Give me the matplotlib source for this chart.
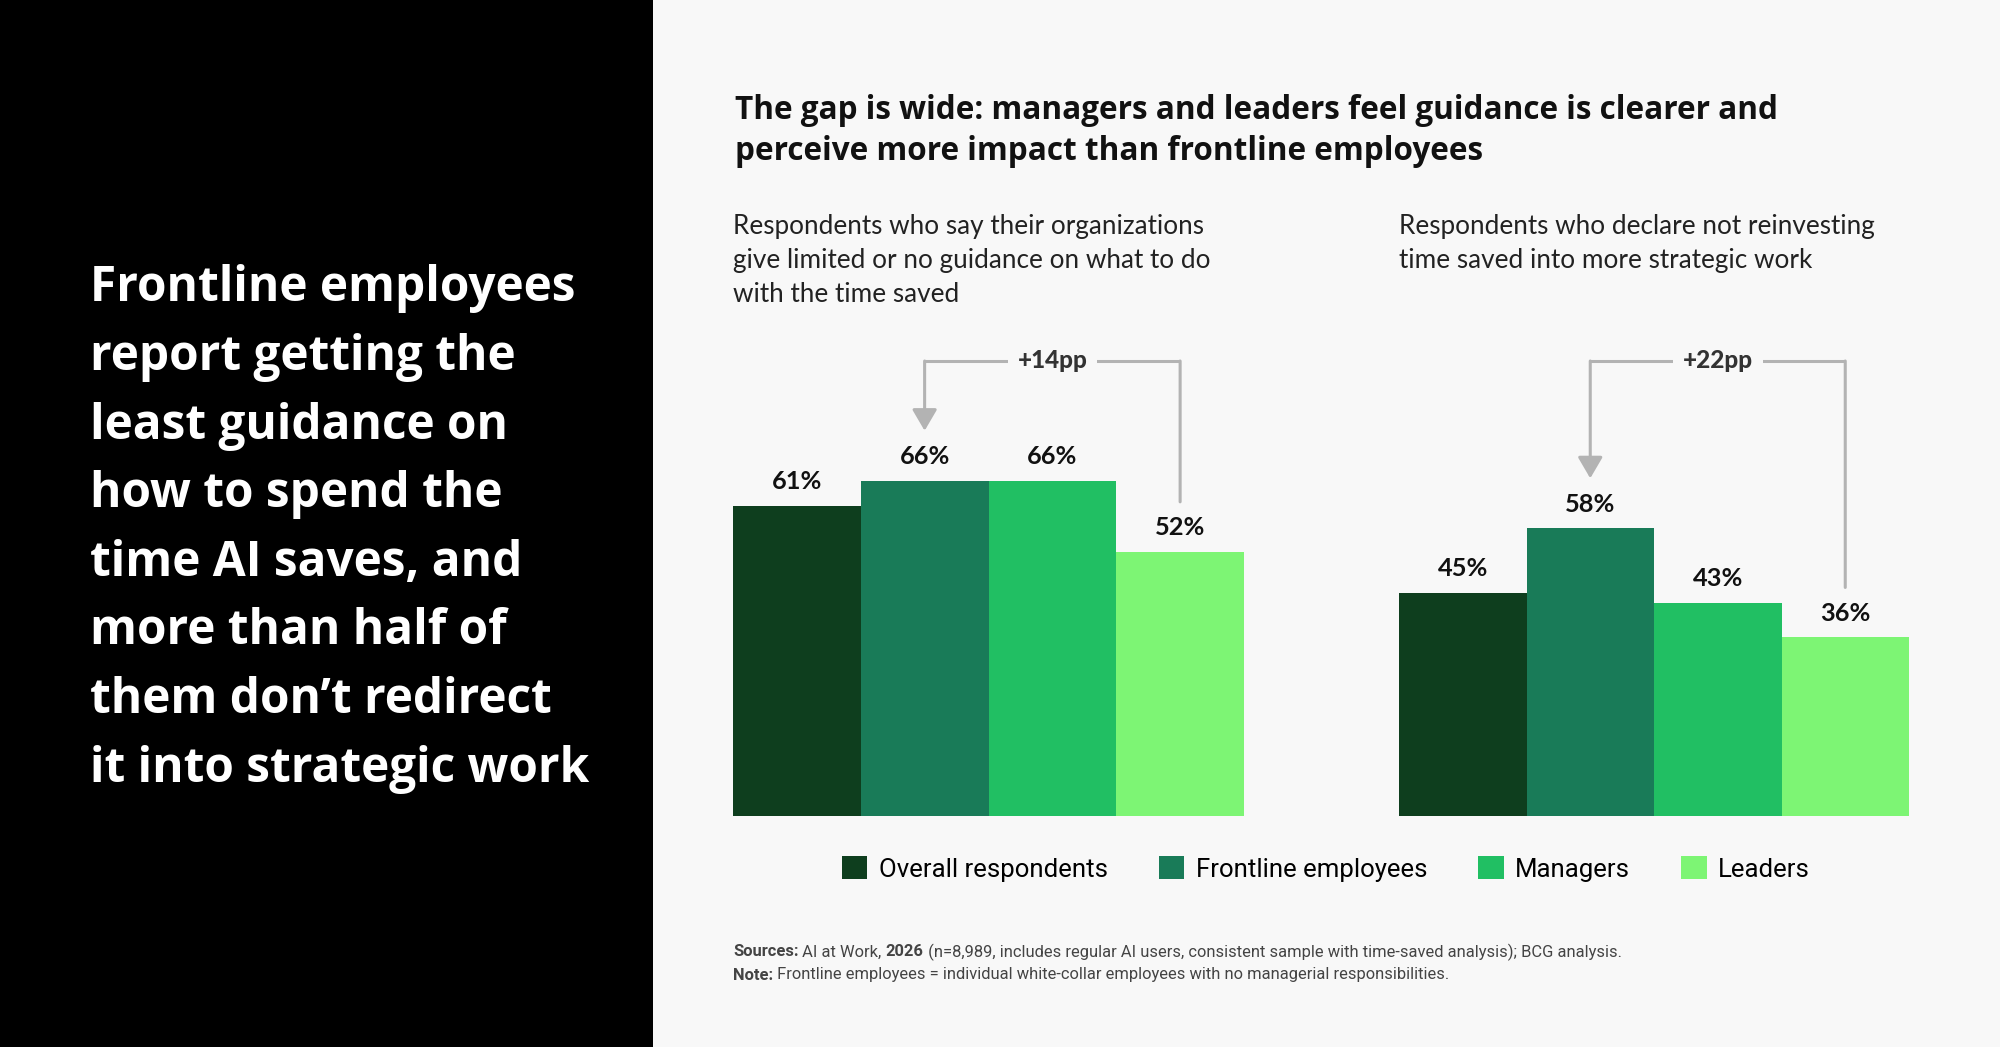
import matplotlib
matplotlib.use("Agg")
import matplotlib.pyplot as plt
from matplotlib.patches import Rectangle, Patch
import numpy as np

# data
groups = ["Overall respondents", "Frontline employees", "Managers", "Leaders"]
guidance = [61, 66, 66, 52]        # limited or no guidance
not_reinvest = [45, 58, 43, 36]    # not reinvesting time saved

colors = ["#0e3e1e", "#197b58", "#21bf63", "#7df574"]
bg = "#f8f8f8"
grey = "#b3b3b3"

title = ("The gap is wide: managers and leaders feel guidance is clearer and\n"
         "perceive more impact than frontline employees")
sub_left = ("Respondents who say their organizations\n"
            "give limited or no guidance on what to do\n"
            "with the time saved")
sub_right = ("Respondents who declare not reinvesting\n"
             "time saved into more strategic work")
headline = ("Frontline employees\nreport getting the\nleast guidance on\n"
            "how to spend the\ntime AI saves, and\nmore than half of\n"
            "them don\u2019t redirect\nit into strategic work")
sources = [("Sources:", "bold"), (" AI at Work, ", "normal"), ("2026", "bold"),
           (" (n=8,989, includes regular AI users, consistent sample with "
            "time-saved analysis); BCG analysis.", "normal")]
note = [("Note:", "bold"), (" Frontline employees = individual white-collar "
                            "employees with no managerial responsibilities.", "normal")]

plt.rcParams['font.family'] = ['Lato', 'DejaVu Sans']

W, H = 2000, 1047
fig = plt.figure(figsize=(W / 100, H / 100), dpi=100, facecolor=bg)
renderer = fig.canvas.get_renderer()

# black side panel
fig.add_artist(Rectangle((0, 0), 653 / W, 1, transform=fig.transFigure,
                         facecolor="black", edgecolor="none", zorder=0))
fig.text(90 / W, 1 - 529 / H, headline, color="white", fontsize=34.4,
         fontweight="bold", ha="left", va="center", linespacing=1.53,
         family=["Open Sans", "DejaVu Sans"])

fig.text(735 / W, 1 - 131 / H, title, color="#111111", fontsize=22.7,
         fontweight="bold", ha="left", va="center", linespacing=1.35,
         family=["Open Sans", "DejaVu Sans"])

ax_bottom = 1 - 816 / H
ax_height = (816 - 361) / H


def panel(x0, x1, values, scale, subtitle):
    ax = fig.add_axes([x0 / W, ax_bottom, (x1 - x0) / W, ax_height])
    ax.set_facecolor("none")
    ymax = (816 - 361) / scale
    x = np.arange(len(values))
    ax.bar(x, values, width=1.0, color=colors, zorder=2)
    ax.set_xlim(-0.5, len(values) - 0.5)
    ax.set_ylim(0, ymax)
    ax.axis("off")
    for xi, v in zip(x, values):
        ax.annotate(f"{v}%", (xi, v), xytext=(0, 17.5), textcoords="offset points",
                    ha="center", va="center", fontsize=18.3, fontweight="bold",
                    color="#111111")
    # bracket between frontline (1) and leaders (3)
    gap = 50 / scale
    trans = ax.get_xaxis_transform()
    ax.plot([1, 3], [1, 1], transform=trans, color=grey, lw=2.2,
            clip_on=False, solid_capstyle="butt")
    ax.annotate("", xy=(1, values[1] + gap), xycoords="data",
                xytext=(1, 1), textcoords=("data", "axes fraction"),
                arrowprops=dict(arrowstyle="-|>,head_length=0.65,head_width=0.38",
                                color=grey, lw=2.2, mutation_scale=20,
                                shrinkA=0, shrinkB=0))
    ax.annotate("", xy=(3, values[3] + gap), xycoords="data",
                xytext=(3, 1), textcoords=("data", "axes fraction"),
                arrowprops=dict(arrowstyle="-", color=grey, lw=2.2,
                                shrinkA=0, shrinkB=0))
    ax.text(2, 1, f"+{values[1] - values[3]}pp", transform=trans,
            ha="center", va="center", fontsize=17.5, fontweight="black",
            color="#333333",
            bbox=dict(facecolor=bg, edgecolor="none", pad=7))
    fig.text(x0 / W, 1 - 214 / H, subtitle, ha="left", va="top",
             fontsize=18.8, color="#222222", linespacing=1.45)
    return ax


panel(733, 1244, guidance, 5.08, sub_left)
panel(1399, 1909, not_reinvest, 4.96, sub_right)

handles = [Patch(facecolor=c, edgecolor="none") for c in colors]
fig.legend(handles, groups, loc="center", bbox_to_anchor=(1326 / W, 1 - 869 / H),
           ncol=4, frameon=False, handlelength=0.99,
           handleheight=0.99, handletextpad=0.45, columnspacing=1.98,
           prop={"family": "Roboto", "size": 18.5})


def rich(x, y, parts):
    for s, w in parts:
        t = fig.text(x, y, s, fontweight=w, fontsize=11.9, color="#444444",
                     ha="left", va="center", family="Roboto")
        x += t.get_window_extent(renderer=renderer).width / W


rich(733 / W, 1 - 952 / H, sources)
rich(733 / W, 1 - 975 / H, note)

fig.savefig("out.png", dpi=100, facecolor=bg)
